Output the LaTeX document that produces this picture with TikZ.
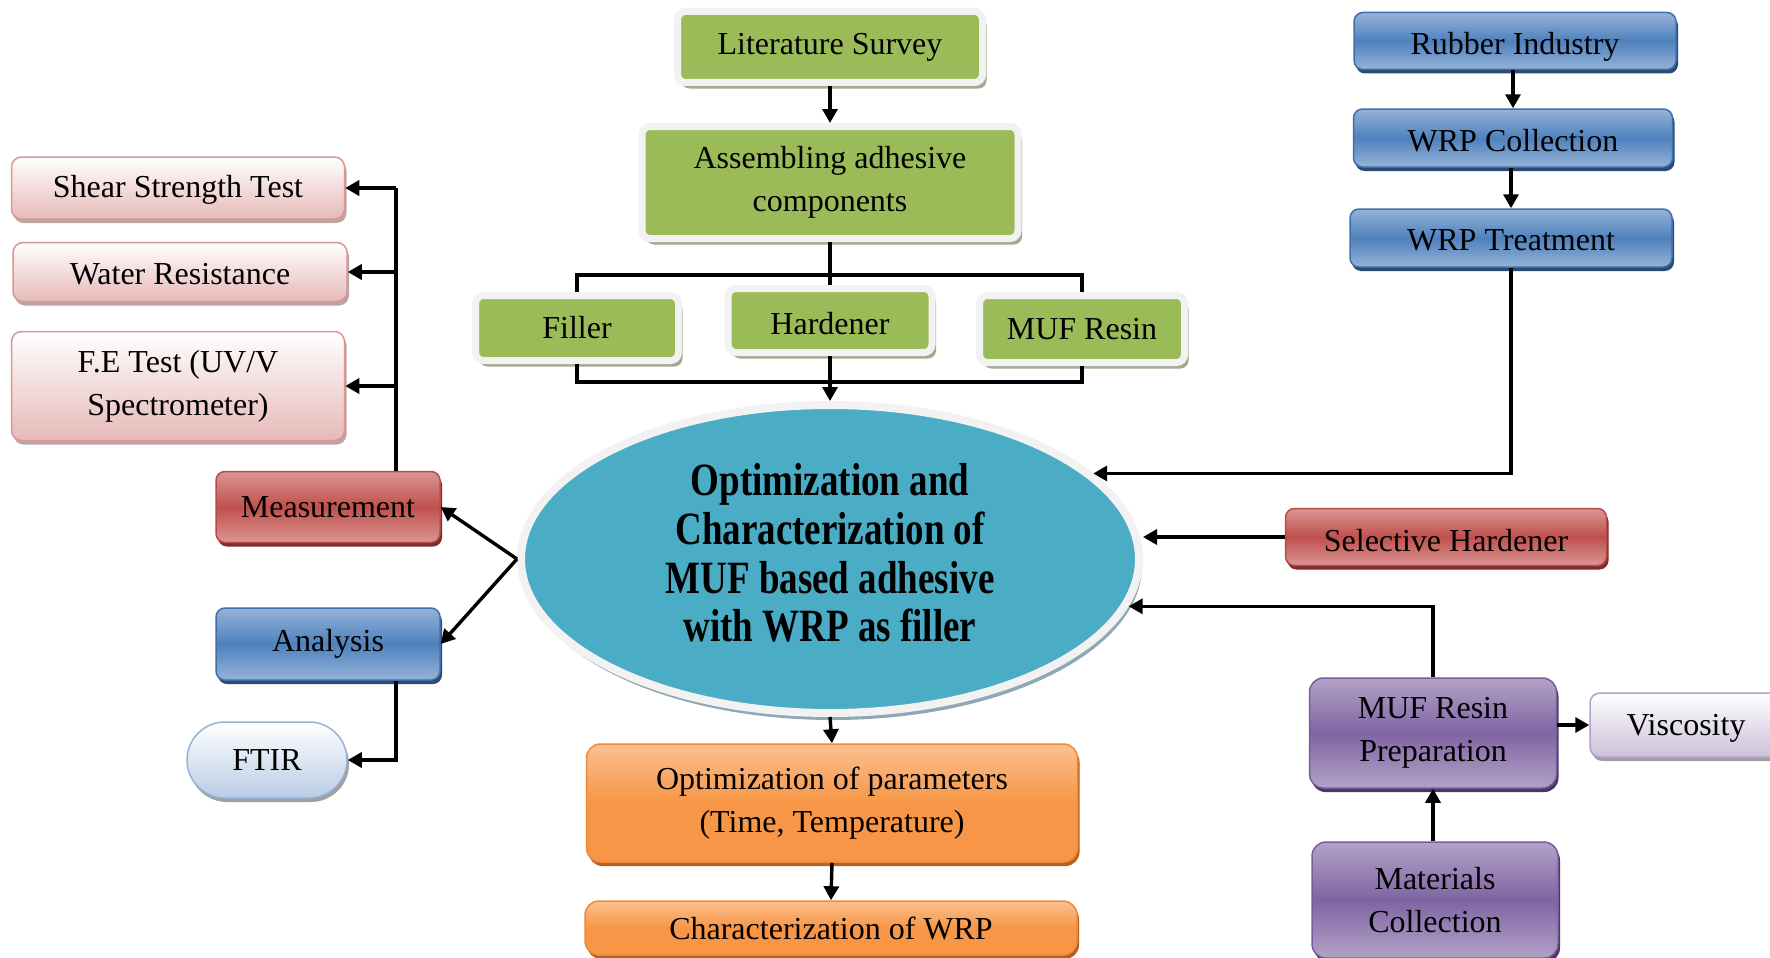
\documentclass[tikz,border=0pt]{standalone}
\usepackage{fontspec}
\setmainfont{Liberation Serif}
\usetikzlibrary{shapes.geometric,shadows,arrows.meta}
\definecolor{cGreen}{HTML}{9BBB59}
\definecolor{cFrame}{HTML}{F2F2F2}
\definecolor{cGreenSh}{HTML}{A4AA90}
\definecolor{cAqua}{HTML}{4BACC6}
\definecolor{cAquaSh}{HTML}{8FA9B4}
\definecolor{cPink}{HTML}{E6B9B8}
\definecolor{cPinkB}{HTML}{D99694}
\definecolor{cPinkSh}{HTML}{BDA5A5}
\definecolor{cRed}{HTML}{C0504D}
\definecolor{cRedL}{HTML}{DA9694}
\definecolor{cRedB}{HTML}{B84A47}
\definecolor{cRedSh}{HTML}{7F2C2A}
\definecolor{cBlue}{HTML}{4F81BD}
\definecolor{cBlueL}{HTML}{95B3D7}
\definecolor{cBlueB}{HTML}{3F6FAA}
\definecolor{cBlueSh}{HTML}{2B4B72}
\definecolor{cLBlue}{HTML}{B9CDE5}
\definecolor{cPurple}{HTML}{8064A2}
\definecolor{cPurpleL}{HTML}{B3A2C7}
\definecolor{cPurpleB}{HTML}{7A5C9E}
\definecolor{cPurpleSh}{HTML}{4A3763}
\definecolor{cLPurple}{HTML}{CCC1DA}
\definecolor{cOrange}{HTML}{F79646}
\definecolor{cOrangeL}{HTML}{FAC090}
\definecolor{cOrangeB}{HTML}{EE8A3A}
\definecolor{cOrangeSh}{HTML}{B8601C}
\definecolor{cGreySh}{HTML}{A0A0A0}
\newcommand{\lowertext}[2]{\raisebox{-#1}[\height][\depth]{#2}}
\tikzset{
  base/.style={rectangle, inner sep=0pt, align=center, text=black,
    font=\fontsize{32}{43}\selectfont},
  greenbox/.style={base, fill=cGreen, draw=cFrame, line width=7pt,
    rounded corners=8pt, outer sep=3.5pt,
    drop shadow={shadow xshift=4pt, shadow yshift=-6pt, fill=cGreenSh, opacity=1}},
  pinkbox/.style={base, top color=white, bottom color=cPink, draw=cPinkB,
    line width=1.5pt, rounded corners=10pt,
    drop shadow={shadow xshift=2pt, shadow yshift=-4pt, fill=cPinkSh, opacity=1}},
  redbox/.style={base, top color=cRedL, bottom color=cRedL, middle color=cRed,
    draw=cRedB, line width=1.5pt, rounded corners=9pt,
    drop shadow={shadow xshift=2pt, shadow yshift=-4pt, fill=cRedSh, opacity=1}},
  bluebox/.style={base, top color=cBlueL, bottom color=cBlueL, middle color=cBlue,
    draw=cBlueB, line width=1.5pt, rounded corners=9pt,
    drop shadow={shadow xshift=2pt, shadow yshift=-4pt, fill=cBlueSh, opacity=1}},
  purplebox/.style={base, top color=cPurpleL, bottom color=cPurpleL, middle color=cPurple,
    draw=cPurpleB, line width=1.5pt, rounded corners=14pt,
    drop shadow={shadow xshift=2pt, shadow yshift=-4pt, fill=cPurpleSh, opacity=1}},
  orangebox/.style={base, top color=cOrangeL, bottom color=cOrange, middle color=cOrange,
    draw=cOrangeB, line width=1.5pt, rounded corners=14pt,
    drop shadow={shadow xshift=2pt, shadow yshift=-4pt, fill=cOrangeSh, opacity=1}},
  lightbox/.style={base, top color=white, bottom color=#1,
    line width=1.5pt, drop shadow={shadow xshift=2pt, shadow yshift=-4pt, fill=cGreySh, opacity=1}},
  conn/.style={line width=3.4pt, line join=miter, draw=black},
  conarrow/.style={conn, -{Triangle[length=14pt,width=15pt]}},
}
\begin{document}
\begin{tikzpicture}[x=1pt,y=-1pt]
\clip (0,0) rectangle (1770,958);
\fill[white] (0,0) rectangle (1770,958);

% central ellipse
\node[ellipse, inner sep=0pt, minimum width=618pt, minimum height=308pt,
  fill=cAqua, draw=cFrame, line width=8pt,
  drop shadow={shadow xshift=3pt, shadow yshift=-7pt, fill=cAquaSh, opacity=1}]
  (ell) at (830,559)
  {\fontsize{37}{39}\selectfont\bfseries\scalebox{1}[1.25]{\begin{tabular}{@{}c@{}}Optimization and\\Characterization of\\MUF based adhesive\\with WRP as filler\end{tabular}}};

% top green column
\node[greenbox, minimum width=305pt, minimum height=71pt] (lit) at (830,47) {Literature Survey};
\node[greenbox, minimum width=376pt, minimum height=112pt] (asm) at (830,182.5) {Assembling adhesive\\components};
\node[greenbox, minimum width=203pt, minimum height=65pt] (fil) at (577,328) {Filler};
\node[greenbox, minimum width=204pt, minimum height=64pt] (hard) at (830,320.5) {\lowertext{3pt}{Hardener}};
\node[greenbox, minimum width=205pt, minimum height=67pt] (muf) at (1082,329) {MUF Resin};

\coordinate (busT) at (0,275);
\coordinate (busB) at (0,382);
\coordinate (spine) at (396,0);

\draw[conarrow] (lit) -- (asm);
\draw[conn] (asm.south) -- (hard.north);
\draw[conn] (fil.north) -- (fil.north |- busT) -- (muf.north |- busT) -- (muf.north);
\draw[conn] (fil.south) -- (fil.south |- busB) -- (muf.south |- busB) -- (muf.south);
\draw[conarrow] (hard.south) -- (ell.north);

% bottom orange
\node[orangebox, minimum width=491pt, minimum height=118pt] (opt) at (832,803) {Optimization of parameters\\(Time, Temperature)};
\node[orangebox, minimum width=492pt, minimum height=54pt] (chr) at (831,928) {Characterization of WRP};
\draw[conarrow] (ell.south) -- (opt.north);
\draw[conarrow] (opt.south) -- (chr.north);

% left side
\node[pinkbox, minimum width=333pt, minimum height=62pt] (shear) at (178,188) {\lowertext{2pt}{Shear Strength Test}};
\node[pinkbox, minimum width=334pt, minimum height=59pt] (water) at (180,272) {\lowertext{2pt}{Water Resistance}};
\node[pinkbox, minimum width=333pt, minimum height=109pt] (fe) at (178,386) {F.E Test (UV/V\\Spectrometer)};
\node[redbox, minimum width=224pt, minimum height=71pt] (meas) at (328,507) {Measurement};
\node[bluebox, minimum width=224pt, minimum height=72pt] (ana) at (328,644) {Analysis};
\node[lightbox=cLBlue, draw=cBlueL, rounded corners=38pt, minimum width=160pt, minimum height=76pt] (ftir) at (267,760) {FTIR};

\draw[conn] (spine |- meas.north) -- (spine |- shear.east);
\draw[conarrow] (spine |- shear.east) -- (shear.east);
\draw[conarrow] (spine |- water.east) -- (water.east);
\draw[conarrow] (spine |- fe.east) -- (fe.east);
\draw[conarrow] (ell.west) -- (meas.east);
\draw[conarrow] (ell.west) -- (ana.east);
\draw[conarrow] (spine |- ana.south) |- (ftir.east);

% right side
\node[bluebox, minimum width=322pt, minimum height=57pt] (rub) at (1515,41) {\lowertext{6pt}{Rubber Industry}};
\node[bluebox, minimum width=319pt, minimum height=58pt] (wcol) at (1513,138) {\lowertext{3pt}{WRP Collection}};
\node[bluebox, minimum width=322pt, minimum height=58pt] (wtr) at (1511,238) {\lowertext{2pt}{WRP Treatment}};
\node[redbox, minimum width=321pt, minimum height=57pt] (sel) at (1446,537) {\lowertext{4pt}{Selective Hardener}};
\node[purplebox, minimum width=247pt, minimum height=110pt] (prep) at (1433,733) {MUF Resin\\Preparation};
\node[lightbox=cLPurple, draw=cPurpleL, rounded corners=10pt, minimum width=192pt, minimum height=64pt] (visc) at (1686,725) {\lowertext{3pt}{Viscosity}};
\node[purplebox, minimum width=246pt, minimum height=116pt] (mat) at (1435,900) {Materials\\Collection};

\draw[conarrow] (rub.south -| wcol.north) -- (wcol.north);
\draw[conarrow] (wcol.south -| wtr.north) -- (wtr.north);
\draw[conarrow] (wtr.south) |- (ell.18);
\draw[conarrow] (sel.west) -- (sel.west -| ell.east);
\draw[conarrow] (prep.north) |- (ell.-9);
\draw[conarrow] (prep.east |- visc.west) -- (visc.west);
\draw[conarrow] (mat.north -| prep.south) -- (prep.south);
\end{tikzpicture}
\end{document}
